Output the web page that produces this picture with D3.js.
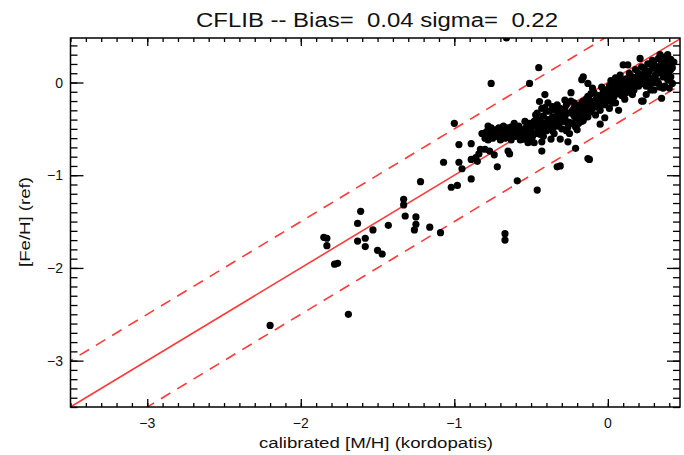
<!DOCTYPE html>
<html><head><meta charset="utf-8">
<script src="https://cdn.jsdelivr.net/npm/d3@7"></script>
<style>body{margin:0;background:#fff}svg{display:block}text{white-space:pre}</style>
</head><body>
<svg id="c" width="684" height="455"></svg>
<script>
const titleText = "CFLIB -- Bias=  0.04 sigma=  0.22";
const xLabel = "calibrated [M/H] (kordopatis)";
const yLabel = "[Fe/H] (ref)";
const xTicks = [-3, -2, -1, 0];
const yTicks = [0, -1, -2, -3];
const xDomain = [-3.5, 0.47];
const yDomain = [-3.5, 0.48];
const sigmaBand = 0.5;

// calibrated [M/H] values
const xs = [];
// [Fe/H] reference values
const ys = [];
const points = [
[-2.20,-2.62],[-1.69,-2.50],[-1.85,-1.67],[-1.83,-1.68],[-1.83,-1.76],[-1.78,-1.96],[-1.76,-1.95],[-1.61,-1.39],[-1.63,-1.52],[-1.63,-1.71],[-1.58,-1.68],[-1.58,-1.77],[-1.53,-1.59],[-1.50,-1.81],[-1.47,-1.85],[-1.43,-1.54],[-1.33,-1.26],[-1.33,-1.32],[-1.32,-1.44],[-1.25,-1.45],[-1.25,-1.53],[-1.26,-1.59],[-1.22,-1.07],[-1.16,-1.56],[-1.09,-1.62],[-1.02,-1.13],[-0.98,-1.11],[-0.89,-1.04],[-0.67,-1.63],[-0.67,-1.70],[-0.59,-1.06],[-0.46,-1.16],[-0.76,-0.01],[-0.51,-0.01],[-1.00,-0.44],[-1.07,-0.86],[-0.97,-0.86],[-0.97,-0.67],[-0.95,-0.93],[-0.89,-0.66],[-0.89,-0.83],[-0.86,-0.81],[-0.84,-0.77],[-0.83,-0.72],[-0.85,-0.85],[-0.72,-0.91],[-0.64,-0.77],[-0.43,-0.74],[-0.31,-0.90],[-0.21,-0.71],[-0.12,-0.83],[-0.05,-0.45],[-0.45,0.16],[-0.41,-0.13],[-0.46,-0.33],[-0.66,0.48],
[-0.82,-0.55],[-0.80,-0.72],[-0.79,-0.53],[-0.78,-0.62],[-0.78,-0.47],[-0.79,-0.58],[-0.81,-0.55],[-0.77,-0.74],[-0.76,-0.49],[-0.76,-0.56],[-0.75,-0.60],[-0.74,-0.78],[-0.73,-0.51],[-0.72,-0.58],[-0.71,-0.54],[-0.70,-0.62],[-0.69,-0.53],[-0.68,-0.47],[-0.67,-0.60],[-0.66,-0.56],[-0.65,-0.49],[-0.65,-0.74],[-0.64,-0.56],[-0.63,-0.62],[-0.62,-0.55],[-0.61,-0.44],[-0.61,-0.50],[-0.60,-0.58],[-0.59,-0.53],[-0.58,-0.47],[-0.57,-0.62],[-0.56,-0.58],[-0.55,-0.52],[-0.54,-0.42],[-0.53,-0.48],[-0.52,-0.55],[-0.52,-0.65],[-0.51,-0.44],[-0.50,-0.51],[-0.50,-0.62],[-0.49,-0.58],[-0.48,-0.42],[-0.48,-0.65],[-0.47,-0.55],[-0.47,-0.35],[-0.46,-0.48],[-0.445,-0.46],[-0.445,-0.205],[-0.43,-0.28],[-0.43,-0.51],[-0.43,-0.64],[-0.42,-0.58],[-0.41,-0.44],[-0.40,-0.31],[-0.40,-0.52],[-0.39,-0.22],[-0.39,-0.40],[-0.38,-0.47],[-0.37,-0.49],[-0.37,-0.61],[-0.36,-0.26],[-0.36,-0.37],[-0.35,-0.55],[-0.34,-0.44],[-0.33,-0.24],[-0.33,-0.47],[-0.33,-0.91],[-0.32,-0.35],[-0.31,-0.61],[-0.30,-0.35],[-0.30,-0.50],[-0.29,-0.42],[-0.28,-0.19],[-0.28,-0.29],[-0.27,-0.42],[-0.26,-0.33],[-0.26,-0.64],[-0.25,-0.43],[-0.25,-0.55],[-0.24,-0.20],[-0.24,-0.11],[-0.23,-0.44],[-0.22,-0.28],[-0.22,-0.36],[-0.21,-0.48],[-0.20,-0.33],[-0.20,-0.51],[-0.19,-0.25],[-0.18,-0.40],[-0.17,-0.22],[-0.17,-0.42],[-0.17,0.03],[-0.16,-0.41],[-0.16,0.06],[-0.15,-0.30],[-0.14,-0.18],[-0.13,-0.26],[-0.13,-0.37],[-0.13,-0.82],[-0.13,-0.01],[-0.13,-0.15],[-0.12,-0.32],[-0.11,-0.22],[-0.10,-0.06],[-0.10,-0.28],[-0.09,-0.11],[-0.08,-0.19],[-0.08,-0.35],[-0.07,-0.25],[-0.06,-0.14],[-0.05,-0.17],[-0.05,-0.30],[-0.04,-0.15],[-0.04,-0.05],[-0.03,-0.22],[-0.02,-0.13],[-0.02,-0.38],[-0.01,-0.08],[0.00,-0.11],[0.00,-0.20],[0.01,-0.04],[0.01,-0.28],[0.02,0.02],[0.03,-0.15],[0.04,-0.10],[0.04,-0.15],[0.05,-0.22],[0.05,0.05],[0.06,-0.06],[0.07,-0.04],[0.07,-0.30],[0.08,-0.08],[0.08,0.08],[0.09,-0.14],[0.10,0.19],[0.10,-0.02],[0.11,-0.01],[0.11,-0.18],[0.12,0.04],[0.13,-0.08],[0.13,0.19],[0.14,0.10],[0.15,-0.06],[0.15,0.03],[0.16,-0.13],[0.17,-0.01],[0.17,-0.08],[0.18,0.14],[0.19,0.06],[0.20,-0.04],[0.21,0.26],[0.21,0.01],[0.22,-0.20],[0.22,0.17],[0.23,-0.20],[0.23,0.08],[0.24,-0.02],[0.25,-0.04],[0.25,-0.13],[0.26,0.10],[0.26,0.20],[0.27,0.12],[0.28,0.03],[0.28,-0.01],[0.28,-0.08],[0.29,0.24],[0.30,0.21],[0.30,-0.08],[0.31,0.08],[0.31,0.15],[0.32,0.02],[0.33,-0.01],[0.33,0.26],[0.34,0.30],[0.34,-0.05],[0.35,0.23],[0.35,-0.17],[0.35,0.10],[0.36,0.06],[0.36,-0.06],[0.37,0.14],[0.37,0.24],[0.37,-0.04],[0.38,0.28],[0.38,0.18],[0.39,0.30],[0.39,0.03],[0.40,0.19],[0.40,0.12],[0.41,0.06],[0.41,0.25],[0.42,-0.01],[0.42,0.16],[0.43,0.22],
[-0.58,-0.56],[-0.55,-0.61],[-0.53,-0.58],[-0.45,-0.52],[-0.44,-0.40],[-0.42,-0.36],[-0.41,-0.27],[-0.38,-0.31],[-0.35,-0.42],[-0.34,-0.30],[-0.32,-0.45],[-0.31,-0.39],[-0.29,-0.33],[-0.27,-0.24],[-0.26,-0.48],[-0.23,-0.30],[-0.21,-0.38],[-0.19,-0.44],[-0.18,-0.29],[-0.16,-0.20],[-0.15,-0.36],[-0.14,-0.27],[-0.12,-0.19],[-0.11,-0.12],[-0.09,-0.25],[-0.07,-0.16],[-0.06,-0.22],[-0.03,-0.10],[-0.01,-0.17],[0.02,-0.08],[0.03,-0.22],[0.06,-0.12],[0.09,-0.05],[0.12,-0.11],[0.14,0.00],[0.16,0.06],[0.19,-0.02],[0.20,0.10],[0.24,0.14],[0.27,0.05],[0.29,0.16],[0.32,0.10],[0.34,0.18],[0.36,0.27],[0.39,0.22],[0.40,-0.06],
[-0.80,-0.60],[-0.77,-0.52],[-0.74,-0.55],[-0.71,-0.49],[-0.69,-0.58],[-0.66,-0.52],[-0.63,-0.48],[-0.60,-0.52],[-0.57,-0.50],[-0.54,-0.55],[-0.51,-0.58],[-0.49,-0.47],[-0.46,-0.42],[-0.44,-0.56],[-0.41,-0.49],[-0.38,-0.42],[-0.36,-0.52],[-0.34,-0.37],[-0.31,-0.28],[-0.28,-0.37],[-0.27,-0.52],[-0.24,-0.33],[-0.22,-0.22],[-0.19,-0.34],[-0.15,-0.24],[-0.11,-0.29],[-0.06,-0.27],[-0.02,-0.24],[0.03,-0.04],[0.06,0.00],[0.09,0.03],[0.12,-0.04],[0.18,0.02],[0.21,0.08],[0.24,0.05],[0.26,-0.02],[0.31,0.00],[0.33,0.13],[0.38,0.09],[0.41,0.14]
];
points.forEach(p => { xs.push(p[0]); ys.push(p[1]); });

const svg = d3.select("#c");
const L = 70.5, R = 680, T = 38, B = 407;
const x = d3.scaleLinear().domain(xDomain).range([L, R]);
const y = d3.scaleLinear().domain(yDomain).range([B, T]);

svg.append("defs").append("clipPath").attr("id","clip")
  .append("rect").attr("x",L).attr("y",T).attr("width",R-L).attr("height",B-T);

const red = "#ff3a3a";
const g = svg.append("g").attr("clip-path","url(#clip)");
const lineX = [xDomain[0]-1, xDomain[1]+1];
[[0,null],[sigmaBand,"11,8"],[-sigmaBand,"11,8"]].forEach(([off,dash]) => {
  g.append("line")
    .attr("x1", x(lineX[0])).attr("y1", y(lineX[0]+off))
    .attr("x2", x(lineX[1])).attr("y2", y(lineX[1]+off))
    .attr("stroke", red).attr("stroke-width", 1.6)
    .attr("stroke-dasharray", dash);
});

g.selectAll("circle.pt").data(xs.map((v,i)=>[v,ys[i]])).enter().append("circle")
  .attr("class","pt")
  .attr("cx", d => x(d[0])).attr("cy", d => y(d[1]))
  .attr("r", 3.6).attr("fill", "#000");

const minorX = d3.range(-35, 5).map(v => v/10).filter(v => v>=xDomain[0]-1e-9 && v<=xDomain[1]);
const minorY = d3.range(-35, 5).map(v => v/10).filter(v => v>=yDomain[0]-1e-9 && v<=yDomain[1]);

function addAxis(axisFn, scale, vals, size, transform) {
  const a = axisFn(scale).tickValues(vals).tickSizeInner(size).tickSizeOuter(0).tickFormat("");
  const gg = svg.append("g").attr("transform", transform).call(a);
  gg.selectAll("line").attr("stroke","#000").attr("stroke-width",1.3);
  gg.select(".domain").remove();
  return gg;
}
addAxis(d3.axisTop, x, xTicks, 8, `translate(0,${B})`);
addAxis(d3.axisTop, x, minorX, 4, `translate(0,${B})`);
addAxis(d3.axisBottom, x, xTicks, 8, `translate(0,${T})`);
addAxis(d3.axisBottom, x, minorX, 4, `translate(0,${T})`);
addAxis(d3.axisRight, y, yTicks, 13, `translate(${L},0)`);
addAxis(d3.axisRight, y, minorY, 7, `translate(${L},0)`);
addAxis(d3.axisLeft, y, yTicks, 13, `translate(${R},0)`);
addAxis(d3.axisLeft, y, minorY, 7, `translate(${R},0)`);

const fam = "'Liberation Sans', Arial, sans-serif";
svg.append("g").selectAll("text").data(xTicks).enter().append("text")
  .attr("x", d => x(d)).attr("y", 428).attr("text-anchor","middle")
  .attr("font-family", fam).attr("font-size", 14).attr("fill","#111")
  .text(d => String(d).replace("-", "\u2212"));
svg.append("g").selectAll("text").data(yTicks).enter().append("text")
  .attr("x", 63).attr("y", d => y(d)+5).attr("text-anchor","end")
  .attr("font-family", fam).attr("font-size", 14).attr("fill","#111")
  .text(d => String(d).replace("-", "\u2212"));

svg.append("rect").attr("x",L).attr("y",T).attr("width",R-L).attr("height",B-T)
  .attr("fill","none").attr("stroke","#000").attr("stroke-width",1.5);

svg.append("text").attr("x", 377).attr("y", 27).attr("text-anchor","middle")
  .attr("font-family", fam).attr("font-size", 20).attr("fill","#111")
  .attr("textLength", 362).attr("lengthAdjust","spacingAndGlyphs")
  .text(titleText);
svg.append("text").attr("x", 376).attr("y", 448).attr("text-anchor","middle")
  .attr("font-family", fam).attr("font-size", 14).attr("fill","#111")
  .attr("textLength", 234).attr("lengthAdjust","spacingAndGlyphs")
  .text(xLabel);
svg.append("text").attr("transform","translate(30,222) rotate(-90)").attr("text-anchor","middle")
  .attr("font-family", fam).attr("font-size", 14).attr("fill","#111")
  .attr("textLength", 90).attr("lengthAdjust","spacingAndGlyphs")
  .text(yLabel);
</script>
</body></html>
